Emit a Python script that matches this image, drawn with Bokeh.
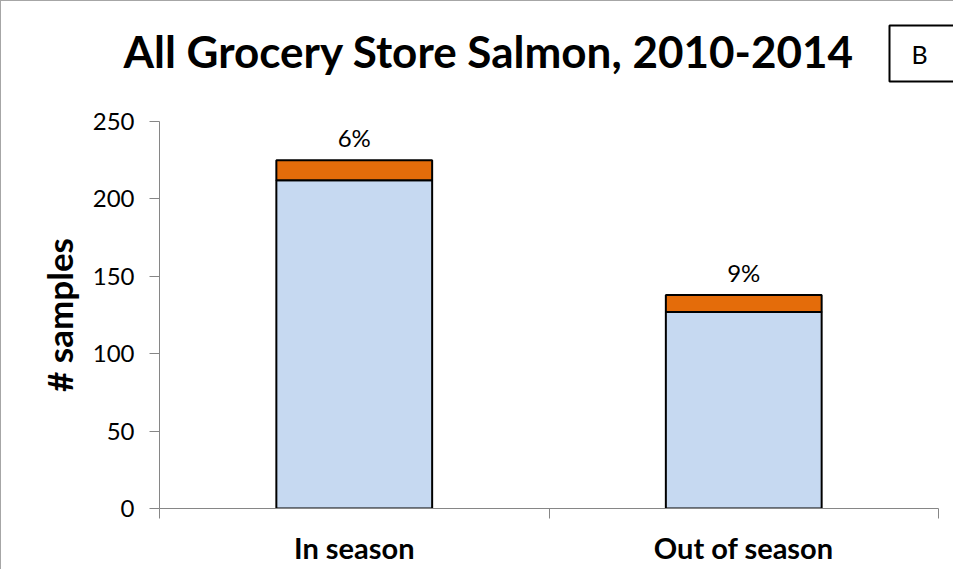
from bokeh.plotting import figure
from bokeh.models import ColumnDataSource, FixedTicker, Range1d, Label, LabelSet, Title
from bokeh.core.properties import value
from bokeh.embed import file_html
from bokeh.resources import INLINE

# ---- data ----
categories = ["In season", "Out of season"]
not_detected = [212, 127]
detected = [13, 11]
pct_labels = ["6%", "9%"]
y_ticks = [0, 50, 100, 150, 200, 250]
y_max = 250
title_text = "All Grocery Store Salmon, 2010-2014"
panel_letter = "B"

FONT = "Lato"
AXIS_GREY = "#868686"

# ---- layout (pixels) ----
W, H = 953, 569
AX_LEFT, AX_RIGHT = 158, 937
AX_TOP, AX_BOTTOM = 120, 507

n = len(categories)
xs = [i + 0.5 for i in range(n)]
totals = [a + b for a, b in zip(not_detected, detected)]
src = ColumnDataSource(dict(x=xs, nd=not_detected, tot=totals, pct=pct_labels))

p = figure(width=W, height=H, output_backend="svg", toolbar_location=None,
           x_range=Range1d(0, n), y_range=Range1d(0, y_max),
           min_border_left=AX_LEFT, min_border_right=W - AX_RIGHT,
           min_border_top=AX_TOP, min_border_bottom=H - AX_BOTTOM)
p.outline_line_color = None
p.grid.visible = False
p.background_fill_color = "white"
p.border_fill_color = "white"
p.styles = {"border-top": "1px solid #a6a6a6", "border-left": "1px solid #a6a6a6"}

p.title = Title(text=title_text, align="left", offset=122 - AX_LEFT, standoff=0,
                text_font=FONT, text_font_style="bold", text_font_size="44px",
                text_color="black")
try:
    p.title.standoff = -22
except Exception:
    p.title.standoff = 0

p.vbar(x="x", bottom=0, top="nd", width=0.4, source=src,
       fill_color="#C6D9F1", line_color="black", line_width=2)
p.vbar(x="x", bottom="nd", top="tot", width=0.4, source=src,
       fill_color="#E46C0A", line_color="black", line_width=2)

p.add_layout(LabelSet(x="x", y="tot", text="pct", source=src, y_offset=8,
                      text_align="center", text_baseline="bottom",
                      text_font=value(FONT), text_font_size=value("24px"),
                      text_color="black"))

# y axis
ya = p.yaxis[0]
ya.ticker = FixedTicker(ticks=y_ticks)
ya.axis_line_color = AXIS_GREY
ya.major_tick_line_color = AXIS_GREY
ya.major_tick_out = 10
ya.major_tick_in = 0
ya.minor_tick_line_color = None
ya.major_label_standoff = 15
ya.major_label_text_font = FONT
ya.major_label_text_font_size = "24px"
ya.major_label_text_color = "black"
ya.axis_label = "# samples"
ya.axis_label_text_font = FONT
ya.axis_label_text_font_style = "bold"
ya.axis_label_text_font_size = "35px"
ya.axis_label_text_color = "black"
ya.axis_label_standoff = 10

# x axis
xa = p.xaxis[0]
xa.ticker = FixedTicker(ticks=xs, minor_ticks=list(range(n + 1)))
xa.major_label_overrides = {x: c for x, c in zip(xs, categories)}
xa.axis_line_color = AXIS_GREY
xa.major_tick_line_color = None
xa.minor_tick_line_color = AXIS_GREY
xa.minor_tick_out = 10
xa.minor_tick_in = 0
xa.major_label_standoff = 11
xa.major_label_text_font = FONT
xa.major_label_text_font_style = "bold"
xa.major_label_text_font_size = "29px"
xa.major_label_text_color = "black"

# panel letter box, placed in the top panel
p.add_layout(Label(x=888 - AX_LEFT, y=AX_TOP - 24, x_units="screen", y_units="screen",
                   text=panel_letter, text_align="left", text_baseline="top",
                   text_font=FONT, text_font_size="25px", text_color="black",
                   border_line_color="black", border_line_width=2,
                   background_fill_color="white",
                   padding=dict(left=22, right=60, top=13, bottom=13)), "above")

open("out.html", "w").write(file_html(p, INLINE))
